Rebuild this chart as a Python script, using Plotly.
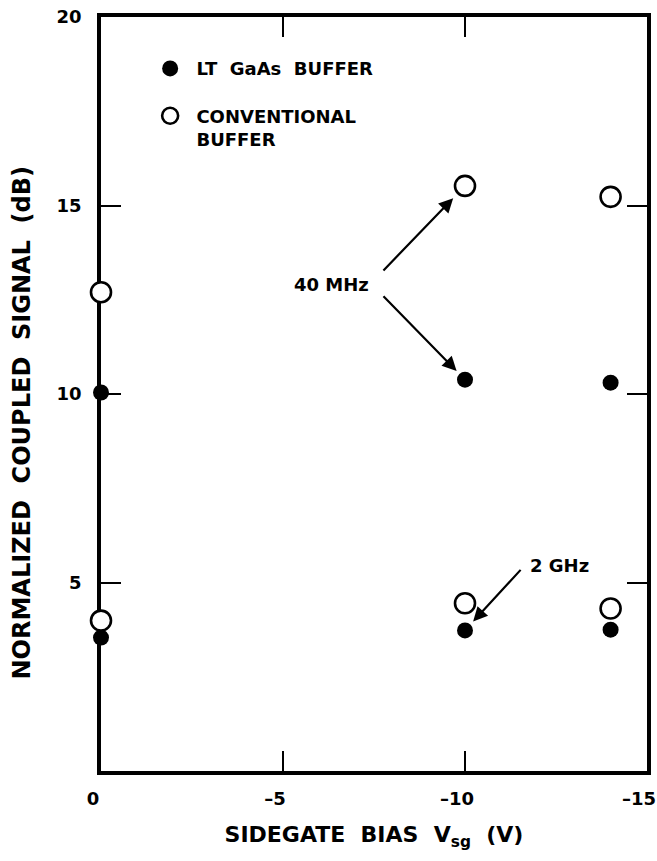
import plotly.graph_objects as go

# ---- data ----
bias_v = [0, -10, -14.0]                 # sidegate bias V_sg (V)
lt_40mhz = [10.04, 10.38, 10.30]         # LT GaAs buffer, 40 MHz (dB)
lt_2ghz = [3.54, 3.73, 3.75]             # LT GaAs buffer, 2 GHz (dB)
conv_40mhz = [12.70, 15.52, 15.23]       # conventional buffer, 40 MHz (dB)
conv_2ghz = [3.99, 4.45, 4.31]           # conventional buffer, 2 GHz (dB)

x_ticks = [0, -5, -10, -15]
x_tick_text = ["0", "\u20135", "\u201310", "\u201315"]
y_ticks = [5, 10, 15, 20]
y_tick_text = ["5", "10", "15", "20"]

NB = "\u00a0"
FONT = "DejaVu Sans"

fig = go.Figure()

filled = dict(symbol="circle", size=16, color="black", line=dict(width=0))
hollow = dict(symbol="circle", size=20, color="white", line=dict(width=2.6, color="black"))

fig.add_trace(go.Scatter(x=bias_v, y=lt_40mhz, mode="markers", marker=filled,
                         name=NB + "LT" + NB + NB + "GaAs" + NB + NB + "BUFFER",
                         legendgroup="lt", showlegend=True, cliponaxis=False))
fig.add_trace(go.Scatter(x=bias_v, y=lt_2ghz, mode="markers", marker=filled,
                         name="LT GaAs BUFFER 2 GHz", legendgroup="lt",
                         showlegend=False, cliponaxis=False))
fig.add_trace(go.Scatter(x=bias_v, y=conv_40mhz, mode="markers", marker=hollow,
                         name=NB + "CONVENTIONAL<br>" + NB + "BUFFER", legendgroup="conv",
                         showlegend=True, cliponaxis=False))
fig.add_trace(go.Scatter(x=bias_v, y=conv_2ghz, mode="markers", marker=hollow,
                         name="CONVENTIONAL BUFFER 2 GHz", legendgroup="conv",
                         showlegend=False, cliponaxis=False))

axis_common = dict(
    showline=True, linewidth=3.8, linecolor="black", mirror="ticks",
    ticks="inside", ticklen=20, tickwidth=2, tickcolor="black",
    showgrid=False, zeroline=False, layer="below traces", automargin=False,
    tickfont=dict(family=FONT, size=18, color="black", weight="bold"),
)

fig.update_xaxes(
    range=[0, -15], tickvals=x_ticks, ticktext=x_tick_text,
    ticklabelstandoff=8, ticklabeloverflow="allow", ticklabelshift=8,
    title=dict(text=NB * 3 + "SIDEGATE" + NB + NB + "BIAS" + NB + NB + "V<sub>sg</sub>" + NB + NB + "(V)",
               font=dict(family=FONT, size=22, color="black", weight="bold"),
               standoff=20),
    **axis_common,
)
fig.update_yaxes(
    range=[0, 20], tickvals=y_ticks, ticktext=y_tick_text,
    ticklabelstandoff=12,
    **axis_common,
)

ann_font = dict(family=FONT, size=18, color="black", weight="bold")
arrow_style = dict(showarrow=True, arrowhead=2, arrowsize=1.3, arrowwidth=2.2,
                   arrowcolor="black", text="", xref="x", yref="y")

annotations = [
    # y-axis title, placed as in the reference (slightly below the axis centre)
    dict(x=-0.145, y=0.462, xref="paper", yref="paper", xanchor="center", yanchor="middle",
         textangle=-90, showarrow=False,
         text="NORMALIZED" + NB + NB + "COUPLED" + NB + NB + "SIGNAL" + NB + NB + "(dB)",
         font=dict(family=FONT, size=24, color="black", weight="bold")),
    dict(x=-6.33, y=12.9, xref="x", yref="y", text="40 MHz", showarrow=False, font=ann_font),
    dict(x=-12.6, y=5.45, xref="x", yref="y", text="2 GHz", showarrow=False, font=ann_font),
    dict(x=bias_v[1], y=conv_40mhz[1], ax=-83, ay=86, standoff=17, **arrow_style),
    dict(x=bias_v[1], y=lt_40mhz[1], ax=-83, ay=-85, standoff=12, **arrow_style),
    dict(x=bias_v[1], y=lt_2ghz[1], ax=57, ay=-62, standoff=12, **arrow_style),
]

fig.update_layout(
    width=657, height=861,
    margin=dict(l=101, r=10, t=17, b=90, autoexpand=False),
    plot_bgcolor="white", paper_bgcolor="white",
    font=dict(family=FONT, color="black"),
    annotations=annotations,
    legend=dict(x=0.09, y=0.956, xanchor="left", yanchor="top",
                traceorder="grouped", tracegroupgap=21, valign="top",
                bgcolor="rgba(0,0,0,0)",
                font=dict(family=FONT, size=18, color="black", weight="bold")),
)

fig.write_html("out.html")
